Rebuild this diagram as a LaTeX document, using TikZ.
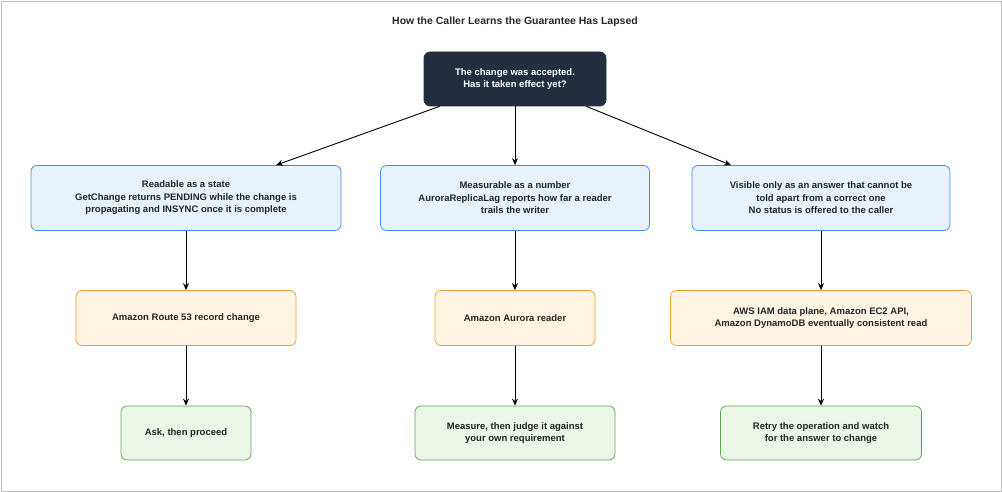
\documentclass[tikz,border=0pt]{standalone}
\usepackage{fontspec}
\setmainfont{Liberation Sans}
\usetikzlibrary{arrows.meta}
\definecolor{dark}{HTML}{232F3E}
\definecolor{bfill}{HTML}{E6F2FC}\definecolor{bline}{HTML}{3D8DF5}
\definecolor{ofill}{HTML}{FFF4E2}\definecolor{oline}{HTML}{EFA032}
\definecolor{gfill}{HTML}{EAF6E6}\definecolor{gline}{HTML}{5CA84A}
\tikzset{
 box/.style={rounded corners=6pt,align=center,font=\bfseries\fontsize{9.5}{12.5}\selectfont,text=black!85,inner sep=0pt,line width=0.7pt},
 dk/.style={box,fill=dark,draw=dark,text=white},
 bl/.style={box,fill=bfill,draw=bline},
 og/.style={box,fill=ofill,draw=oline},
 gr/.style={box,fill=gfill,draw=gline},
 arr/.style={-{Stealth[length=7pt,width=6pt]},line width=0.9pt}
}
\begin{document}
\begin{tikzpicture}[x=1pt,y=-1pt]
\useasboundingbox (0,0) rectangle (1002,492);
\draw[black!25,line width=0.8pt] (1,1) rectangle (1001,491);
\node[font=\bfseries\fontsize{10.5}{13}\selectfont,text=black!85] (title) at (515,22) {How the Caller Learns the Guarantee Has Lapsed};
\node[dk,minimum width=182pt,minimum height=54pt] (top) at (515,79) {The change was accepted.\\Has it taken effect yet?};
\node[bl,minimum width=310pt,minimum height=65pt] (b1) at (186,198) {Readable as a state\\GetChange returns PENDING while the change is\\propagating and INSYNC once it is complete};
\node[bl,minimum width=269pt,minimum height=65pt] (b2) at (515,198) {Measurable as a number\\AuroraReplicaLag reports how far a reader\\trails the writer};
\node[bl,minimum width=258pt,minimum height=65pt] (b3) at (821,198) {Visible only as an answer that cannot be\\told apart from a correct one\\No status is offered to the caller};
\node[og,minimum width=220pt,minimum height=55pt] (o1) at (186,318) {Amazon Route 53 record change};
\node[og,minimum width=160pt,minimum height=55pt] (o2) at (515,318) {Amazon Aurora reader};
\node[og,minimum width=301pt,minimum height=55pt] (o3) at (821,318) {AWS IAM data plane, Amazon EC2 API,\\Amazon DynamoDB eventually consistent read};
\node[gr,minimum width=130pt,minimum height=54pt] (g1) at (186,433) {Ask, then proceed};
\node[gr,minimum width=200pt,minimum height=54pt] (g2) at (515,433) {Measure, then judge it against\\your own requirement};
\node[gr,minimum width=201pt,minimum height=54pt] (g3) at (821,433) {Retry the operation and watch\\for the answer to change};
\draw[arr] (top.south west)++(16,0) -- ([xshift=90pt]b1.north);
\draw[arr] (top) -- (b2);
\draw[arr] (top.south east)++(-20,0) -- ([xshift=-90pt]b3.north);
\foreach \a/\b in {b1/o1,b2/o2,b3/o3,o1/g1,o2/g2,o3/g3} \draw[arr] (\a) -- (\b);
\end{tikzpicture}
\end{document}
